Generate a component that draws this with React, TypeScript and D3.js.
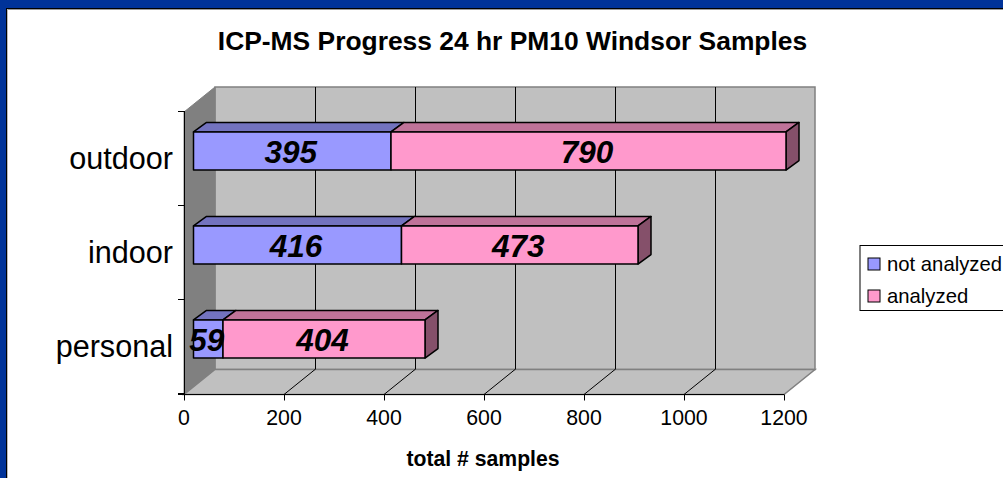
import React from "react";
import * as d3 from "d3";

const categories = ["outdoor", "indoor", "personal"];
const notAnalyzed = [395, 416, 59];
const analyzed = [790, 473, 404];
const xTicks = [0, 200, 400, 600, 800, 1000, 1200];
const yEdges = [0, 1, 2, 3];
const legendItems = ["not analyzed", "analyzed"];
const titleText = "ICP-MS Progress 24 hr PM10 Windsor Samples";
const xTitle = "total # samples";

const FONT = "'Liberation Sans', Arial, sans-serif";
const BLUE = "#003399";
const PERI = "#9999ff";
const PINK = "#ff99cc";
const PERI_TOP = "#7373bf";
const PERI_SIDE = "#5c5c99";
const PINK_TOP = "#bf7399";
const PINK_SIDE = "#85506a";

const x = d3.scaleLinear().domain([0, 1200]).range([184, 784]);
const y = d3.scaleBand().domain(categories).range([112, 394]).paddingInner(0.595).paddingOuter(0.2975);
const step = y.step();

const DX = 31, DY = -25; // full floor depth
const BX = 9.5, BY = -8; // bar front offset from front plane
const TX = 13, TY = -9.5; // bar depth

const pts = (p: number[][]) => p.map((d) => d.join(",")).join(" ");

function Box({ v0, v1, yTop, h, face, top, side, showSide }: any) {
  const a = x(v0) + BX, b = x(v1) + BX;
  return (
    <g stroke="#000" strokeWidth={1.5} strokeLinejoin="round">
      <polygon points={pts([[a, yTop], [a + TX, yTop + TY], [b + TX, yTop + TY], [b, yTop]])} fill={top} />
      {showSide && <polygon points={pts([[b, yTop], [b + TX, yTop + TY], [b + TX, yTop + TY + h], [b, yTop + h]])} fill={side} />}
      <rect x={a} y={yTop} width={b - a} height={h} fill={face} />
    </g>
  );
}

export default function App() {
  const x0 = x(0), x1 = x(1200), yB = 394.5, yT = 112;
  return (
    <svg width={1003} height={478} style={{ position: "absolute", left: 0, top: 0, display: "block" }} fontFamily={FONT}>
      <rect width={1003} height={478} fill={BLUE} />
      <rect x={6.5} y={8.5} width={1000} height={475} fill="#fff" stroke="#000" strokeWidth={1} />
      <line x1={7} x2={1003} y1={9.5} y2={9.5} stroke="#999" strokeWidth={1} />
      <line x1={7.5} x2={7.5} y1={9} y2={478} stroke="#bbb" strokeWidth={1} />

      <text x={512.5} y={49.5} textAnchor="middle" fontWeight="bold" fontSize={26.4}>{titleText}</text>

      {/* walls */}
      <polygon points={pts([[x0 + DX, yT + DY], [x1 + DX, yT + DY], [x1 + DX, yB + DY], [x0 + DX, yB + DY]])} fill="#c0c0c0" stroke="#808080" strokeWidth={1.5} />
      <polygon points={pts([[x0, yT], [x0 + DX, yT + DY], [x0 + DX, yB + DY], [x0, yB]])} fill="#808080" stroke="#808080" strokeWidth={1} />
      <polygon points={pts([[x0, yB], [x1, yB], [x1 + DX, yB + DY], [x0 + DX, yB + DY]])} fill="#c0c0c0" stroke="#808080" strokeWidth={1.5} />

      {/* gridlines */}
      {xTicks.slice(1, -1).map((t) => (
        <g key={t} stroke="#000" strokeWidth={1} fill="none">
          <line x1={x(t) + DX + 0.5} x2={x(t) + DX + 0.5} y1={yT + DY} y2={yB + DY} />
          <line x1={x(t)} x2={x(t) + DX} y1={yB} y2={yB + DY} />
        </g>
      ))}

      {/* axes */}
      <line x1={x0 + 0.5} x2={x0 + 0.5} y1={yT - 1} y2={yB} stroke="#000" strokeWidth={1} />
      <line x1={x0 - 6} x2={x1} y1={yB} y2={yB} stroke="#000" strokeWidth={1} />
      {yEdges.map((i) => (
        <line key={i} x1={x0 - 6} x2={x0} y1={yT - 0.5 + i * step} y2={yT - 0.5 + i * step} stroke="#000" strokeWidth={1} />
      ))}
      {xTicks.map((t) => (
        <g key={t}>
          <line x1={x(t) + 0.5} x2={x(t) + 0.5} y1={yB} y2={yB + 6} stroke="#000" strokeWidth={1} />
          <text x={x(t)} y={425} textAnchor="middle" fontSize={21.3}>{t}</text>
        </g>
      ))}

      {/* bars, back to front */}
      {categories.map((c, i) => {
        const yTop = (y(c) as number) + BY;
        const h = y.bandwidth();
        const mid = notAnalyzed[i];
        const end = mid + analyzed[i];
        return (
          <g key={c}>
            <Box v0={0} v1={mid} yTop={yTop} h={h} face={PERI} top={PERI_TOP} side={PERI_SIDE} />
            <Box v0={mid} v1={end} yTop={yTop} h={h} face={PINK} top={PINK_TOP} side={PINK_SIDE} showSide />
            <text x={x(mid / 2) + BX - 1.5} y={yTop + h / 2 + 11.5} textAnchor="middle" fontWeight="bold" fontStyle="italic" fontSize={31.5}>{mid}</text>
            <text x={x(mid + analyzed[i] / 2) + BX - 1.5} y={yTop + h / 2 + 11.5} textAnchor="middle" fontWeight="bold" fontStyle="italic" fontSize={31.5}>{analyzed[i]}</text>
            <text x={173} y={(y(c) as number) + y.bandwidth() / 2 + 10} textAnchor="end" fontSize={30.6}>{c}</text>
          </g>
        );
      })}

      <text x={483} y={466} textAnchor="middle" fontWeight="bold" fontSize={21.2}>{xTitle}</text>

      {/* legend */}
      <rect x={860} y={245.5} width={150} height={65} fill="#fff" stroke="#000" strokeWidth={1} />
      {legendItems.map((l, i) => (
        <g key={l}>
          <rect x={868} y={258 + i * 32} width={12} height={12} fill={i === 0 ? PERI : PINK} stroke="#000" strokeWidth={1} />
          <text x={887} y={270.5 + i * 32} fontSize={20.3}>{l}</text>
        </g>
      ))}
    </svg>
  );
}
